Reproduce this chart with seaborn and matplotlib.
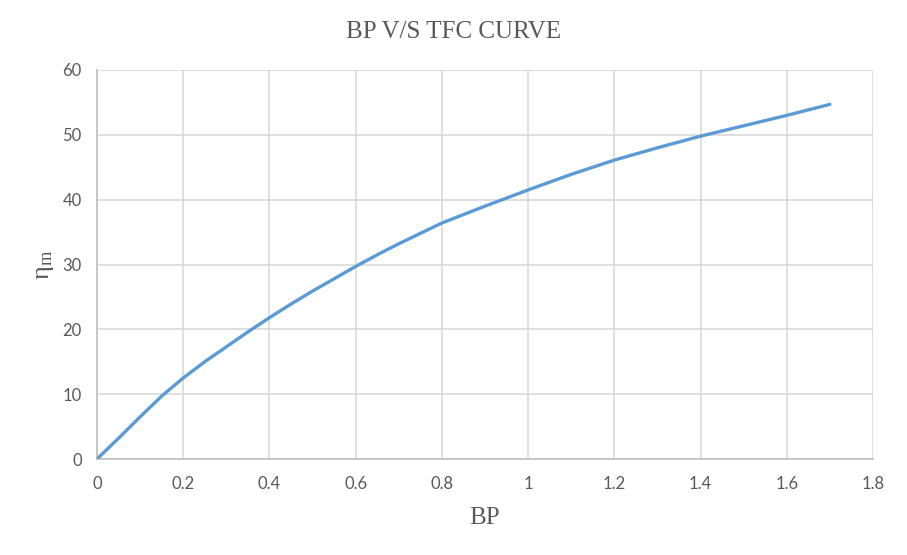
import matplotlib
matplotlib.use("Agg")
import matplotlib.pyplot as plt
import seaborn as sns
import pandas as pd

bp = [0.0, 0.05, 0.1, 0.15, 0.2, 0.25, 0.3, 0.35, 0.4, 0.45, 0.5, 0.55, 0.6, 0.65, 0.7, 0.75, 0.8,
      0.9, 1.0, 1.1, 1.2, 1.3, 1.4, 1.5, 1.6, 1.7]
eta_m = [0.0, 3.2, 6.5, 9.7, 12.5, 15.0, 17.3, 19.6, 21.8, 23.9, 25.9, 27.8, 29.7, 31.5, 33.2, 34.8, 36.4,
         39.0, 41.5, 43.9, 46.1, 48.0, 49.8, 51.4, 53.0, 54.7]
x_ticks = [0, 0.2, 0.4, 0.6, 0.8, 1.0, 1.2, 1.4, 1.6, 1.8]
x_tick_labels = ["0", "0.2", "0.4", "0.6", "0.8", "1", "1.2", "1.4", "1.6", "1.8"]
y_ticks = [0, 10, 20, 30, 40, 50, 60]

sns.set_style("white")
plt.rcParams["font.family"] = ["Lato", "DejaVu Sans"]
plt.rcParams["mathtext.fontset"] = "custom"
plt.rcParams["mathtext.rm"] = "Liberation Serif"

df = pd.DataFrame({"BP": bp, "eta": eta_m})

fig = plt.figure(figsize=(9.07, 5.55), dpi=100)
ax = fig.add_axes([97 / 907, 96 / 555, 776 / 907, 389 / 555])

sns.lineplot(data=df, x="BP", y="eta", ax=ax, color="#5B9BD5", linewidth=2.4, zorder=3)

ax.set_xlim(0, 1.8)
ax.set_ylim(0, 60)
ax.set_xticks(x_ticks)
ax.set_xticklabels(x_tick_labels)
ax.set_yticks(y_ticks)
ax.grid(True, color="#D9D9D9", linewidth=1.2)
ax.set_axisbelow(True)
for s in ["top", "right"]:
    ax.spines[s].set_visible(False)
for s in ["left", "bottom"]:
    ax.spines[s].set_color("#BFBFBF")
    ax.spines[s].set_linewidth(1.2)
ax.tick_params(axis="both", length=0, labelsize=12, labelcolor="#595959")
ax.tick_params(axis="x", pad=12)
ax.tick_params(axis="y", pad=11)

ax.set_xlabel("BP", family="Liberation Serif", fontsize=18, color="#595959", labelpad=11)
ax.set_ylabel(r"$\mathrm{η_m}$", fontsize=19, color="#595959", labelpad=5)

fig.text(0.5, 1 - 32 / 555, "BP V/S TFC CURVE", ha="center", va="center",
         family="Liberation Serif", fontsize=18, color="#595959")

fig.savefig("out.png", dpi=100)
